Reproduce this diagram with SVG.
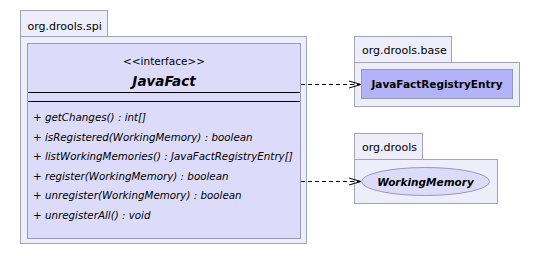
<svg xmlns="http://www.w3.org/2000/svg" width="540" height="256" viewBox="0 0 540 256">
  <style>
    .pkg { fill: #eeeefb; stroke: #a3a3b8; stroke-width: 1; }
    .cls { fill: #dcdcfa; stroke: #9999b3; stroke-width: 1; }
    .cls-hl { fill: #b3b3f8; stroke: #9999b3; stroke-width: 1; }
    .pkg-label { font-family: "DejaVu Sans", sans-serif; font-size: 11px; fill: #000; }
    .stereo { font-family: "DejaVu Sans", sans-serif; font-size: 10.5px; fill: #000; }
    .title { font-family: "DejaVu Sans", sans-serif; font-size: 13.5px; font-weight: bold; font-style: italic; fill: #000; }
    .member { font-family: "DejaVu Sans", sans-serif; font-size: 10.3px; font-style: italic; fill: #000; }
    .name { font-family: "DejaVu Sans", sans-serif; font-size: 10.5px; font-weight: bold; fill: #000; }
    .name-i { font-family: "DejaVu Sans", sans-serif; font-size: 10.5px; font-weight: bold; font-style: italic; fill: #000; }
    .sep { stroke: #000; stroke-width: 1; }
    .dep { fill: none; stroke: #000; stroke-width: 1; stroke-dasharray: 4 3; }
  </style>
  <defs>
    <marker id="open-arrow" markerWidth="14" markerHeight="10" refX="13" refY="5" orient="auto" markerUnits="userSpaceOnUse">
      <path d="M1,1.5 L13,5 L1,8.5" fill="none" stroke="#000" stroke-width="1"/>
    </marker>
  </defs>

  <rect width="540" height="256" fill="#ffffff"/>

  <!-- package org.drools.spi -->
  <g id="pkg-spi">
    <rect class="pkg" x="20.5" y="10.5" width="87" height="26"/>
    <rect class="pkg" x="20.5" y="36.5" width="286" height="207"/>
    <text class="pkg-label" x="27.5" y="29.5">org.drools.spi</text>
  </g>

  <!-- interface JavaFact -->
  <g id="JavaFact">
    <rect class="cls" x="27.5" y="43.5" width="273" height="195"/>
    <text class="stereo" x="164" y="65" text-anchor="middle">&lt;&lt;interface&gt;&gt;</text>
    <text class="title" x="164" y="86" text-anchor="middle">JavaFact</text>
    <line class="sep" x1="28" y1="92.5" x2="300" y2="92.5"/>
    <line class="sep" x1="28" y1="101.5" x2="300" y2="101.5"/>
    <text class="member" x="33" y="121">+ getChanges() : int[]</text>
    <text class="member" x="33" y="140.5">+ isRegistered(WorkingMemory) : boolean</text>
    <text class="member" x="33" y="160">+ listWorkingMemories() : JavaFactRegistryEntry[]</text>
    <text class="member" x="33" y="179.5">+ register(WorkingMemory) : boolean</text>
    <text class="member" x="33" y="199">+ unregister(WorkingMemory) : boolean</text>
    <text class="member" x="33" y="218.5">+ unregisterAll() : void</text>
  </g>

  <!-- package org.drools.base -->
  <g id="pkg-base">
    <rect class="pkg" x="354.5" y="36.5" width="97" height="26"/>
    <rect class="pkg" x="354.5" y="62.5" width="165" height="44"/>
    <text class="pkg-label" x="362" y="54">org.drools.base</text>
  </g>

  <!-- class JavaFactRegistryEntry -->
  <g id="JavaFactRegistryEntry">
    <rect class="cls-hl" x="361.5" y="69.5" width="151" height="29"/>
    <text class="name" x="437" y="88" text-anchor="middle">JavaFactRegistryEntry</text>
  </g>

  <!-- package org.drools -->
  <g id="pkg-drools">
    <rect class="pkg" x="354.5" y="133.5" width="68" height="26"/>
    <rect class="pkg" x="354.5" y="159.5" width="143" height="44"/>
    <text class="pkg-label" x="362" y="151">org.drools</text>
  </g>

  <!-- interface WorkingMemory -->
  <g id="WorkingMemory">
    <ellipse class="cls" cx="425.5" cy="181.5" rx="64" ry="14"/>
    <text class="name-i" x="425.5" y="185.5" text-anchor="middle">WorkingMemory</text>
  </g>

  <!-- dependencies -->
  <g id="connectors">
    <line class="dep" x1="301" y1="84.5" x2="361" y2="84.5" marker-end="url(#open-arrow)"/>
    <line class="dep" x1="301" y1="181.5" x2="361" y2="181.5" marker-end="url(#open-arrow)"/>
  </g>
</svg>
